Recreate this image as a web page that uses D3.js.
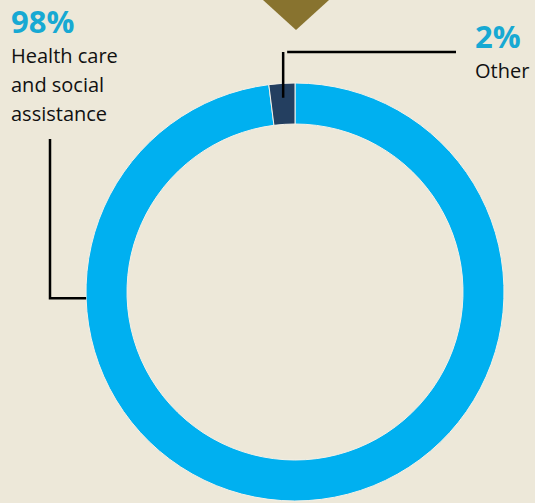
<!DOCTYPE html>
<html>
<head>
<meta charset="utf-8">
<script src="https://cdn.jsdelivr.net/npm/d3@7"></script>
<style>
  html, body { margin: 0; padding: 0; background: #ede8d9; }
  svg { display: block; }
  text { font-family: "Open Sans", "Noto Sans", sans-serif; }
</style>
</head>
<body>
<div id="chart"></div>
<script>
// data
var categories = ["Health care and social assistance", "Other"];
var values = [98, 2];
var pctLabels = ["98%", "2%"];
var nameLines = [["Health care", "and social", "assistance"], ["Other"]];

var width = 535, height = 503;
var cx = 295, cy = 292;
var outerR = 209, innerR = 168;

var colors = d3.scaleOrdinal()
  .domain(categories)
  .range(["#00b0f0", "#243f60"]);

var svg = d3.select("#chart")
  .append("svg")
  .attr("width", width)
  .attr("height", height);

svg.append("rect")
  .attr("width", width)
  .attr("height", height)
  .attr("fill", "#ede8d9");

// brown marker at the top
svg.append("path")
  .attr("d", "M263,0 L329,0 L296,30 Z")
  .attr("fill", "#88732f");

var data = categories.map(function(c, i) {
  return {name: c, value: values[i], pct: pctLabels[i], lines: nameLines[i]};
});

var pie = d3.pie()
  .value(d => d.value)
  .sort(null);

var arc = d3.arc()
  .innerRadius(innerR)
  .outerRadius(outerR);

var g = svg.append("g")
  .attr("transform", "translate(" + cx + "," + cy + ")");

var arcs = pie(data);

g.selectAll("path.slice")
  .data(arcs)
  .enter()
  .append("path")
  .attr("class", "slice")
  .attr("d", arc)
  .attr("fill", d => colors(d.data.name))
  .attr("stroke", "#f4f1e8")
  .attr("stroke-width", 1);

// leader lines
var lines = svg.append("g")
  .attr("fill", "none")
  .attr("stroke", "#000")
  .attr("stroke-width", 2.5);

// "Other" : from slice centroid up, then right
var c1 = arc.centroid(arcs[1]);
lines.append("path")
  .attr("d", "M" + (cx + c1[0]) + "," + (cy + c1[1] - 6) + " V52 M" + (cx + c1[0] + 4) + ",52 H456");

// "Health care" : from the left outer edge, left then up
var a0 = -Math.PI / 2 - 0.03;
var px = cx + outerR * Math.sin(a0), py = cy - outerR * Math.cos(a0);
lines.append("path")
  .attr("d", "M" + px + "," + py + " H50 V139");

// labels
function label(d, x, y) {
  var t = svg.append("g");
  t.append("text")
    .attr("x", x)
    .attr("y", y)
    .style("font-size", "31px")
    .style("font-weight", "bold")
    .style("fill", "#17a9d3")
    .text(d.pct);
  t.selectAll("text.name")
    .data(d.lines)
    .enter()
    .append("text")
    .attr("class", "name")
    .attr("x", x)
    .attr("y", (l, i) => y + 30 + i * 29)
    .style("font-size", "20px")
    .style("fill", "#111")
    .text(l => l);
}

label(data[0], 11, 33);
label(data[1], 475, 48);
</script>
</body>
</html>
